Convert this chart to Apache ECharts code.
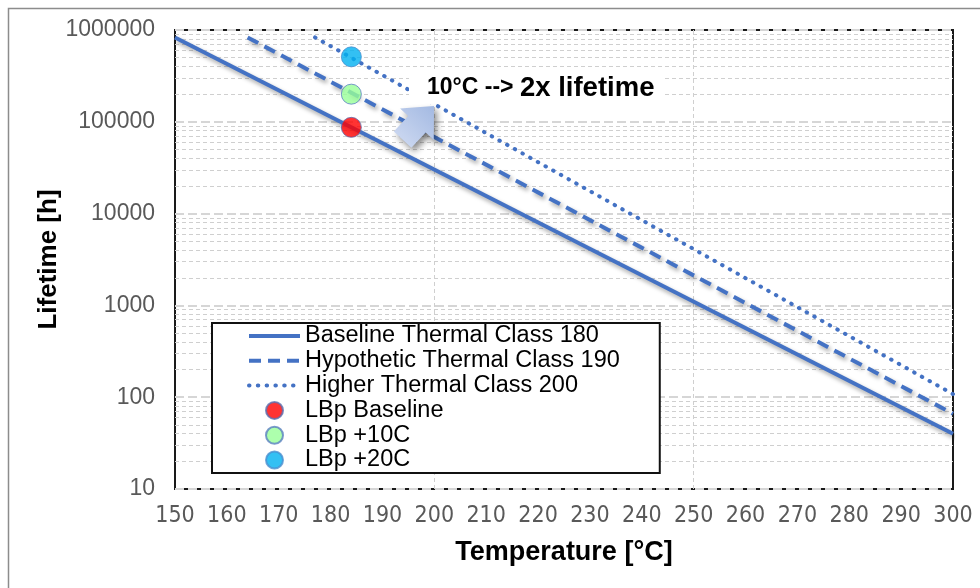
<!DOCTYPE html>
<html>
<head>
<meta charset="utf-8">
<script src="https://cdn.jsdelivr.net/npm/echarts@6/dist/echarts.min.js"></script>
<style>
  html, body { margin: 0; padding: 0; background: #ffffff; }
  #chart { width: 980px; height: 588px; }
</style>
</head>
<body>
<div id="chart"></div>
<script>
// Axis ticks
const xTicks = [150, 160, 170, 180, 190, 200, 210, 220, 230, 240, 250, 260, 270, 280, 290, 300];
const yTicks = [10, 100, 1000, 10000, 100000, 1000000];
const yMinorGrid = [20, 30, 40, 50, 60, 70, 80, 90,
                    200, 300, 400, 500, 600, 700, 800, 900,
                    2000, 3000, 4000, 5000, 6000, 7000, 8000, 9000,
                    20000, 30000, 40000, 50000, 60000, 70000, 80000, 90000,
                    200000, 300000, 400000, 500000, 600000, 700000, 800000, 900000];
const xMajorGrid = [200, 250];

// Lifetime curves [temperature °C, lifetime h]
const baseline180 = [[150, 830000], [300, 40]];
const hypothetic190 = [[164, 830000], [300, 66]];
const higher200 = [[177, 830000], [300, 108]];

// Operating points
const lbpBaseline = [[184, 87000]];
const lbpPlus10 = [[184, 200000]];
const lbpPlus20 = [[184, 510000]];

const seriesNames = [
  'Baseline Thermal Class 180',
  'Hypothetic Thermal Class 190',
  'Higher Thermal Class 200',
  'LBp Baseline',
  'LBp +10C',
  'LBp +20C'
];

const lineBlue = '#4472C4';
const FONT = '"Liberation Sans", Arial, sans-serif';
const lineShadow = {
  shadowColor: 'rgba(0,0,0,0.35)', shadowBlur: 4, shadowOffsetX: 2, shadowOffsetY: 3
};
const dashPattern = [12, 7];
const dotPattern = [0.5, 8.3];

const chart = echarts.init(document.getElementById('chart'), null, { renderer: 'canvas' });

chart.setOption({
  animation: false,
  backgroundColor: '#ffffff',
  grid: {
    left: 175, right: 27, top: 30, bottom: 99,
    show: true, borderColor: '#1a1a1a', borderWidth: 2, backgroundColor: '#ffffff'
  },
  xAxis: {
    type: 'value',
    min: xTicks[0],
    max: xTicks[xTicks.length - 1],
    interval: 10,
    axisLine: { show: false },
    axisTick: { show: false },
    splitLine: { show: false },
    axisLabel: {
      margin: 16,
      fontFamily: '"Liberation Sans Narrow", "DejaVu Sans Condensed", Arial, sans-serif',
      fontSize: 23,
      color: '#595959'
    },
    name: 'Temperature [°C]',
    nameLocation: 'middle',
    nameGap: 50,
    nameMoveOverlap: false,
    nameTextStyle: { fontFamily: FONT, fontSize: 27, fontWeight: 'bold', color: '#000' }
  },
  yAxis: {
    type: 'log',
    logBase: 10,
    min: yTicks[0],
    max: yTicks[yTicks.length - 1],
    splitNumber: 5,
    axisLine: { show: false },
    axisTick: { show: false },
    axisLabel: {
      margin: 20,
      fontFamily: FONT,
      fontSize: 23,
      color: '#595959',
      formatter: (v) => String(Math.round(v))
    },
    splitLine: {
      show: true,
      lineStyle: { color: '#d6d6d6', width: 2, type: [9, 4] }
    },
    name: 'Lifetime [h]',
    nameLocation: 'middle',
    nameRotate: 90,
    nameGap: 113,
    nameMoveOverlap: false,
    nameTextStyle: { fontFamily: FONT, fontSize: 26, fontWeight: 'bold', color: '#000' }
  },
  legend: {
    orient: 'vertical',
    left: 212,
    top: 323,
    data: [
      { name: seriesNames[0], itemStyle: { opacity: 0 }, lineStyle: { width: 4, type: 'solid' } },
      { name: seriesNames[1], itemStyle: { opacity: 0 }, lineStyle: { width: 4, type: dashPattern } },
      { name: seriesNames[2], itemStyle: { opacity: 0 }, lineStyle: { width: 4, type: dotPattern, cap: 'round' } },
      { name: seriesNames[3] },
      { name: seriesNames[4] },
      { name: seriesNames[5] }
    ],
    itemWidth: 51,
    itemHeight: 17,
    itemGap: 0.8,
    padding: [1, 40, 1, 35],
    backgroundColor: '#ffffff',
    borderColor: '#111111',
    borderWidth: 2,
    textStyle: { fontFamily: FONT, fontSize: 23.5, lineHeight: 22, color: '#000' },
    selectedMode: false,
    z: 10
  },
  series: [
    {
      // minor gridlines and the vertical reference lines
      name: 'grid',
      type: 'line',
      data: [],
      silent: true,
      z: 1,
      markLine: {
        silent: true,
        z: 1,
        symbol: 'none',
        label: { show: false },
        animation: false,
        lineStyle: { color: '#cfcfcf', width: 1, type: [4, 3] },
        data: yMinorGrid.map(v => ({ yAxis: v })).concat(xMajorGrid.map(v => ({ xAxis: v })))
      }
    },
    {
      name: seriesNames[0],
      type: 'line',
      data: baseline180,
      symbol: 'none',
      z: 3,
      lineStyle: Object.assign({ color: lineBlue, width: 4, type: 'solid' }, lineShadow),
      itemStyle: { color: lineBlue }
    },
    {
      name: seriesNames[1],
      type: 'line',
      data: hypothetic190,
      symbol: 'none',
      z: 3,
      lineStyle: Object.assign({ color: lineBlue, width: 4, type: dashPattern }, lineShadow),
      itemStyle: { color: lineBlue }
    },
    {
      name: seriesNames[2],
      type: 'line',
      data: higher200,
      symbol: 'none',
      z: 3,
      lineStyle: { color: lineBlue, width: 4, type: dotPattern, cap: 'round' },
      itemStyle: { color: lineBlue }
    },
    {
      name: seriesNames[3],
      type: 'scatter',
      data: lbpBaseline,
      symbol: 'circle',
      symbolSize: 20,
      z: 4,
      itemStyle: { color: '#FF0000', borderColor: '#5a6fb0', borderWidth: 1 }
    },
    {
      name: seriesNames[4],
      type: 'scatter',
      data: lbpPlus10,
      symbol: 'circle',
      symbolSize: 20,
      z: 4,
      itemStyle: { color: '#99FF99', borderColor: '#5a7fc0', borderWidth: 1 }
    },
    {
      name: seriesNames[5],
      type: 'scatter',
      data: lbpPlus20,
      symbol: 'circle',
      symbolSize: 20,
      z: 4,
      itemStyle: { color: '#00B0F0', borderColor: '#4a8fd0', borderWidth: 1 }
    }
  ],
  graphic: [
    {
      // chart frame
      type: 'rect',
      silent: true,
      z: 0,
      shape: { x: 8.5, y: 8.5, width: 1000, height: 600 },
      style: { fill: 'none', stroke: '#8c8c8c', lineWidth: 1.5 }
    },
    {
      // block arrow pointing up-right
      type: 'polygon',
      silent: true,
      z: 50,
      x: 434, y: 106,
      rotation: 47 * Math.PI / 180,
      shape: {
        points: [[0, 0], [-25, -23], [-25, -12], [-46, -12], [-46, 12], [-25, 12], [-25, 23]]
      },
      style: {
        fill: new echarts.graphic.LinearGradient(0, 0, 1, 0, [
          { offset: 0, color: '#c8d5ef' },
          { offset: 1, color: '#a3b9e2' }
        ]),
        shadowColor: 'rgba(0,0,0,0.45)', shadowBlur: 6, shadowOffsetX: 3, shadowOffsetY: 4
      }
    },
    {
      type: 'text',
      silent: true,
      z: 40,
      x: 409, y: 70,
      style: {
        text: '{a|10°C --> }{b|2x lifetime}',
        backgroundColor: '#ffffff',
        padding: [4, 10, 2, 18],
        rich: {
          a: { fontFamily: FONT, fontSize: 23, fontWeight: 'bold', fill: '#000' },
          b: { fontFamily: FONT, fontSize: 27.5, fontWeight: 'bold', fill: '#000' }
        }
      }
    }
  ]
});
</script>
</body>
</html>
